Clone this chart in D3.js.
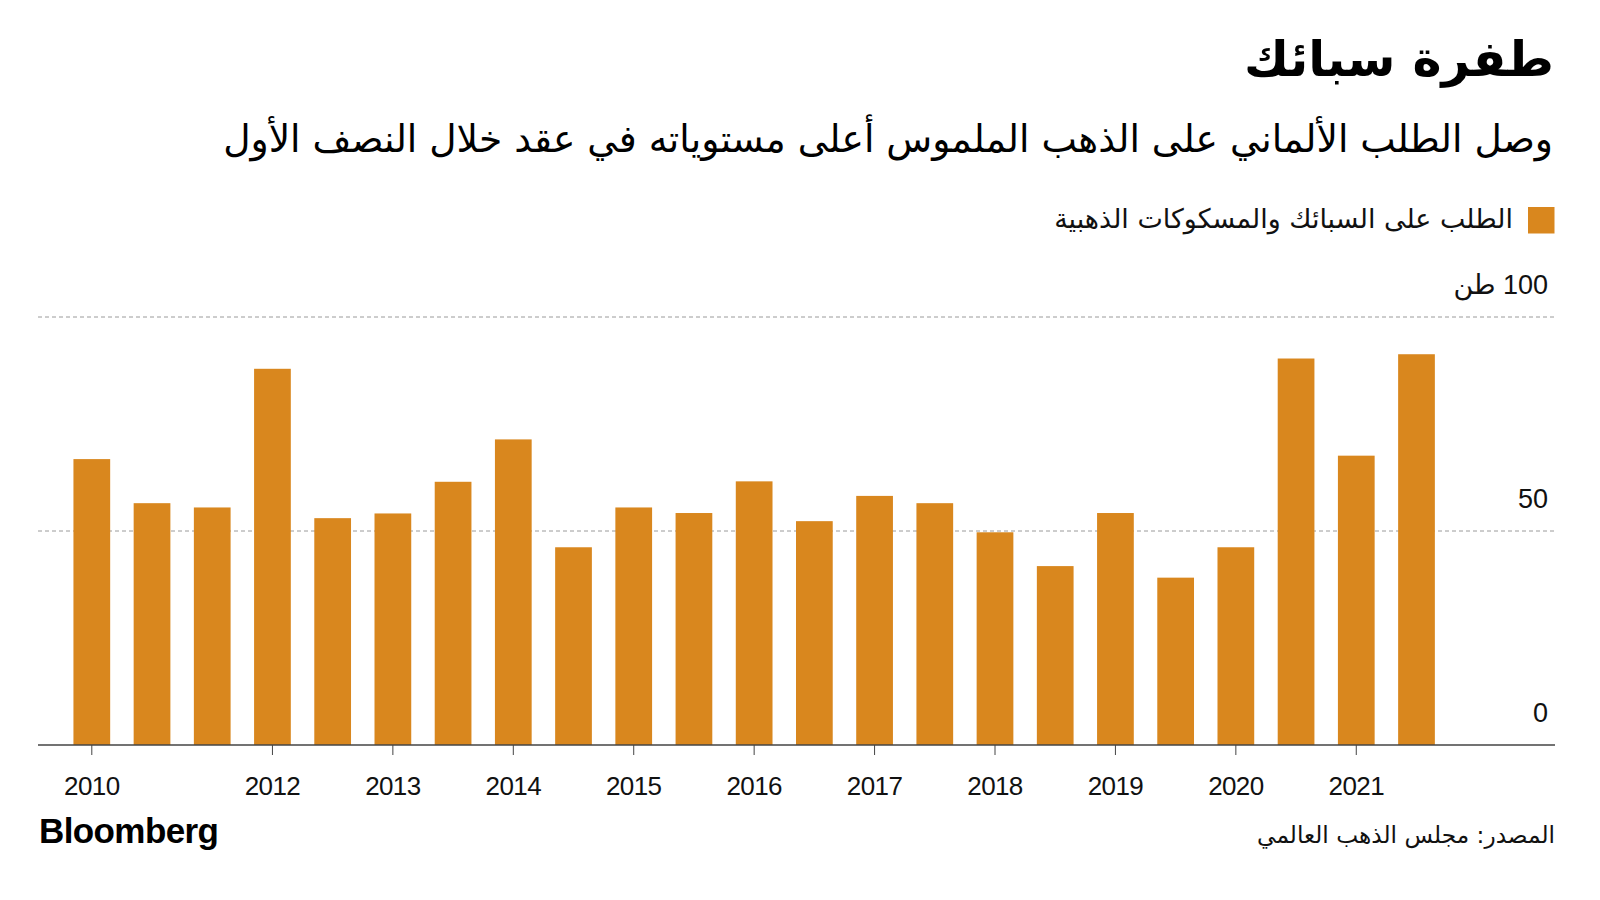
<!DOCTYPE html>
<html>
<head>
<meta charset="utf-8">
<script src="https://cdn.jsdelivr.net/npm/d3@7"></script>
<style>
  html, body { margin: 0; padding: 0; background: #ffffff; }
  svg { display: block; }
</style>
</head>
<body>
<svg id="chart" width="1600" height="900"></svg>
<script>
// ---- Data ----
const periods = [
  "2010 H1","2010 H2","2011 H1","2011 H2","2012 H1","2012 H2","2013 H1","2013 H2",
  "2014 H1","2014 H2","2015 H1","2015 H2","2016 H1","2016 H2","2017 H1","2017 H2",
  "2018 H1","2018 H2","2019 H1","2019 H2","2020 H1","2020 H2","2021 H1"
];
const demandTonnes = [
  66.8, 56.5, 55.5, 87.9, 53.0, 54.1, 61.5, 71.4,
  46.2, 55.5, 54.2, 61.6, 52.3, 58.2, 56.5, 49.7,
  41.8, 54.2, 39.1, 46.2, 90.3, 67.6, 91.3
];
const tickPeriods = ["2010 H1","2011 H2","2012 H2","2013 H2","2014 H2","2015 H2","2016 H2","2017 H2","2018 H2","2019 H2","2020 H2"];
const tickLabels  = ["2010","2012","2013","2014","2015","2016","2017","2018","2019","2020","2021"];
const yTicks = [0, 50, 100];
const yTickLabels = ["0", "50", "100 طن"];

const titleText = "طفرة سبائك";
const subtitleText = "وصل الطلب الألماني على الذهب الملموس أعلى مستوياته في عقد خلال النصف الأول";
const legendText = "الطلب على السبائك والمسكوكات الذهبية";
const sourceText = "المصدر: مجلس الذهب العالمي";
const brandText = "Bloomberg";

// ---- Layout ----
const BAR_COLOR = "#d9871e";
const AR_FONT = "'DejaVu Sans', sans-serif";
const NUM_FONT = "'Liberation Sans', Arial, sans-serif";
const plotLeft = 38, plotRight = 1555;
const baseY = 745, topY = 317;

const svg = d3.select("#chart");

const x = d3.scaleBand()
  .domain(periods)
  .range([61.7, 1446.6])
  .paddingInner(0.39)
  .paddingOuter(0.195);

const y = d3.scaleLinear().domain([0, 100]).range([baseY, topY]);

// Fit text to target width by scaling font size
function fitText(sel, target) {
  const node = sel.node();
  const w = node.getComputedTextLength();
  const fs = parseFloat(sel.attr("font-size"));
  if (w > 0) sel.attr("font-size", (fs * target / w).toFixed(2));
}

// Gridlines (dashed) for 50 and 100
svg.append("g").selectAll("line")
  .data(yTicks.filter(d => d > 0))
  .join("line")
  .attr("x1", plotLeft).attr("x2", plotRight)
  .attr("y1", d => y(d)).attr("y2", d => y(d))
  .attr("stroke", "#9a9a9a")
  .attr("stroke-width", 1)
  .attr("stroke-dasharray", "4,3");

// Bars
svg.append("g").selectAll("rect")
  .data(periods.map((p, i) => ({p, v: demandTonnes[i]})))
  .join("rect")
  .attr("x", d => x(d.p))
  .attr("width", x.bandwidth())
  .attr("y", d => y(d.v))
  .attr("height", d => y(0) - y(d.v))
  .attr("fill", BAR_COLOR);

// Baseline axis
svg.append("line")
  .attr("x1", plotLeft).attr("x2", plotRight)
  .attr("y1", baseY).attr("y2", baseY)
  .attr("stroke", "#444").attr("stroke-width", 1.3);

// X axis ticks and labels
const xAxis = d3.axisBottom(x)
  .tickValues(tickPeriods)
  .tickFormat(p => tickLabels[tickPeriods.indexOf(p)])
  .tickSize(10)
  .tickPadding(22);
const gx = svg.append("g").attr("transform", `translate(0,${baseY})`).call(xAxis);
gx.select(".domain").remove();
gx.selectAll(".tick line").attr("stroke", "#444").attr("stroke-width", 1);
gx.selectAll(".tick text")
  .attr("font-family", NUM_FONT)
  .attr("font-size", 26)
  .attr("fill", "#111")
  .attr("letter-spacing", "-0.6");

// Y labels (right aligned at 1548, above gridlines; RTL paragraph so unit sits left of number)
const yLab = svg.append("g").selectAll("text")
  .data(yTicks)
  .join("text")
  .attr("x", 1548)
  .attr("y", d => y(d) - 23)
  .attr("direction", "rtl")
  .attr("font-family", NUM_FONT + ", " + AR_FONT)
  .attr("font-size", 27)
  .attr("fill", "#111")
  .text((d, i) => yTickLabels[i]);
yLab.each(function() {
  const bb = this.getBBox();
  const cur = +this.getAttribute("x");
  this.setAttribute("x", cur + (1548 - (bb.x + bb.width)));
});

// Title
const title = svg.append("text")
  .attr("x", 1554).attr("y", 76)
  .attr("text-anchor", "end")
  .attr("font-family", AR_FONT)
  .attr("font-weight", "bold")
  .attr("font-size", 50)
  .attr("fill", "#000")
  .text(titleText);
fitText(title, 310);

// Subtitle
const sub = svg.append("text")
  .attr("x", 1553).attr("y", 152)
  .attr("text-anchor", "end")
  .attr("font-family", AR_FONT)
  .attr("font-size", 32)
  .attr("fill", "#000")
  .text(subtitleText);
fitText(sub, 1330);

// Legend
svg.append("rect")
  .attr("x", 1528).attr("y", 207)
  .attr("width", 26.5).attr("height", 26.5)
  .attr("fill", BAR_COLOR);
const leg = svg.append("text")
  .attr("x", 1513).attr("y", 228)
  .attr("text-anchor", "end")
  .attr("font-family", AR_FONT)
  .attr("font-size", 24)
  .attr("fill", "#111")
  .text(legendText);
fitText(leg, 459);

// Bloomberg brand
svg.append("text")
  .attr("x", 39).attr("y", 843)
  .attr("font-family", NUM_FONT)
  .attr("font-weight", "bold")
  .attr("font-size", 35)
  .attr("letter-spacing", "-0.6")
  .attr("fill", "#000")
  .text(brandText);

// Source
const src = svg.append("text")
  .attr("x", 1555).attr("y", 843)
  .attr("text-anchor", "end")
  .attr("font-family", AR_FONT)
  .attr("font-size", 22)
  .attr("fill", "#111")
  .text(sourceText);
fitText(src, 298);
</script>
</body>
</html>
